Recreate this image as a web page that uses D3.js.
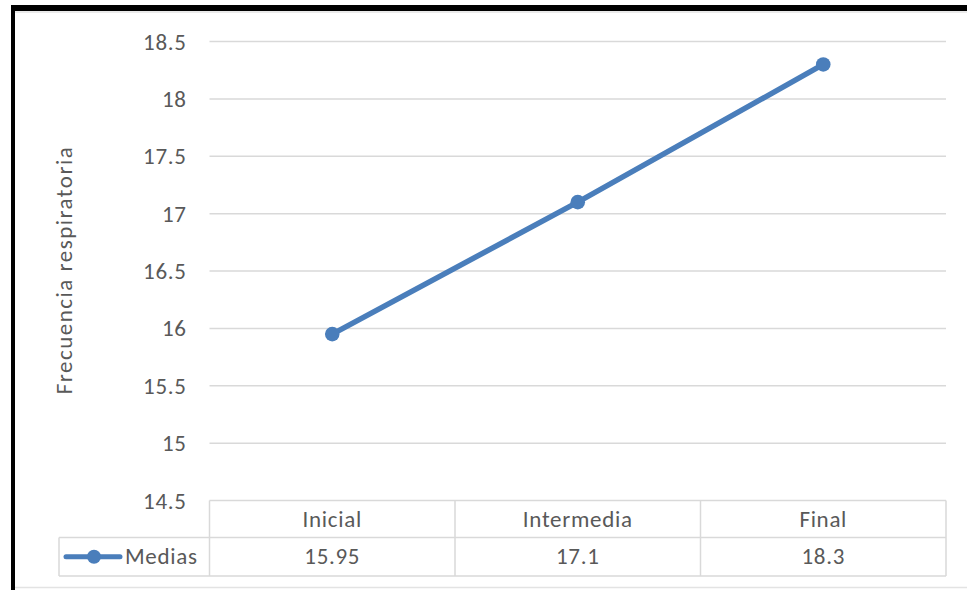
<!DOCTYPE html>
<html><head><meta charset="utf-8">
<script src="https://cdn.jsdelivr.net/npm/d3@7"></script>
<style>html,body{margin:0;padding:0;background:#fff;}svg{display:block;}</style>
</head><body>
<script>
const categories = ["Inicial", "Intermedia", "Final"];
const seriesName = "Medias";
const values = [15.95, 17.1, 18.3];
const valueLabels = ["15.95", "17.1", "18.3"];
const yTicks = [14.5, 15, 15.5, 16, 16.5, 17, 17.5, 18, 18.5];
const yTitle = "Frecuencia respiratoria";

const W = 967, H = 590;
const font = "Carlito, Calibri, Lato, 'Open Sans', sans-serif";
const fs = 23, ls = 0.7;
const textColor = "#595959", gridColor = "#d9d9d9", lineColor = "#4a7ebb";

const svg = d3.select("body").append("svg").attr("width", W).attr("height", H);
svg.append("rect").attr("width", W).attr("height", H).attr("fill", "#fff");

// frame
svg.append("rect").attr("x", 11).attr("y", 5).attr("width", W - 11).attr("height", 6).attr("fill", "#000");
svg.append("rect").attr("x", 11).attr("y", 5).attr("width", 4).attr("height", H - 5).attr("fill", "#000");
svg.append("line").attr("x1", 15).attr("x2", W).attr("y1", 12).attr("y2", 12).attr("stroke", "#e3e3e3").attr("stroke-width", 1.5);
svg.append("line").attr("x1", 15).attr("x2", W).attr("y1", 587.5).attr("y2", 587.5).attr("stroke", "#e3e3e3").attr("stroke-width", 1.5);

const plotL = 209.5, plotR = 946, plotT = 41.5, plotB = 500.5;
const y = d3.scaleLinear().domain([14.5, 18.5]).range([plotB, plotT]);
const x = d3.scaleBand().domain(categories).range([plotL, plotR]);

// gridlines
svg.append("g").selectAll("line").data(yTicks.filter(t => t !== 14.5)).join("line")
  .attr("x1", plotL).attr("x2", plotR)
  .attr("y1", d => y(d)).attr("y2", d => y(d))
  .attr("stroke", gridColor).attr("stroke-width", 1.5);

// y axis labels
const yAxis = d3.axisLeft(y).tickValues(yTicks).tickSize(0).tickPadding(0).tickFormat(d => String(d));
const gy = svg.append("g").attr("transform", "translate(186.7,0)").call(yAxis);
gy.select(".domain").remove();
gy.selectAll("text").attr("font-family", font).attr("font-size", fs).attr("letter-spacing", ls)
  .attr("fill", textColor).attr("dy", "0.33em");

// y title
svg.append("text").attr("transform", "translate(72.3,270) rotate(-90)")
  .attr("text-anchor", "middle").attr("font-family", font).attr("font-size", fs).attr("letter-spacing", 1.5)
  .attr("fill", textColor).text(yTitle);

// data table
const rowTop = 500.5, rowMid = 537.5, rowBot = 576, legL = 59;
const tbl = svg.append("g").attr("stroke", gridColor).attr("stroke-width", 1.5).attr("fill", "none");
tbl.append("line").attr("x1", plotL).attr("x2", plotR).attr("y1", rowTop).attr("y2", rowTop);
tbl.append("line").attr("x1", legL).attr("x2", plotR).attr("y1", rowMid).attr("y2", rowMid);
tbl.append("line").attr("x1", legL).attr("x2", plotR).attr("y1", rowBot).attr("y2", rowBot);
tbl.append("line").attr("x1", legL).attr("x2", legL).attr("y1", rowMid).attr("y2", rowBot);
const seps = categories.map(c => x(c)).concat([plotR]);
tbl.selectAll(".sep").data(seps).join("line").attr("class", "sep")
  .attr("x1", d => d).attr("x2", d => d).attr("y1", rowTop).attr("y2", rowBot);

svg.append("g").selectAll("text").data(categories).join("text")
  .attr("x", d => x(d) + x.bandwidth() / 2).attr("y", (rowTop + rowMid) / 2).attr("dy", "0.33em")
  .attr("text-anchor", "middle").attr("font-family", font).attr("font-size", fs).attr("letter-spacing", ls)
  .attr("fill", textColor).text(d => d);
svg.append("g").selectAll("text").data(valueLabels).join("text")
  .attr("x", (d, i) => x(categories[i]) + x.bandwidth() / 2).attr("y", (rowMid + rowBot) / 2).attr("dy", "0.33em")
  .attr("text-anchor", "middle").attr("font-family", font).attr("font-size", fs).attr("letter-spacing", ls)
  .attr("fill", textColor).text(d => d);

// legend key
const ly = (rowMid + rowBot) / 2;
svg.append("line").attr("x1", 66).attr("x2", 120).attr("y1", ly).attr("y2", ly)
  .attr("stroke", lineColor).attr("stroke-width", 5).attr("stroke-linecap", "round");
svg.append("circle").attr("cx", 94).attr("cy", ly).attr("r", 7).attr("fill", lineColor);
svg.append("text").attr("x", 125).attr("y", ly).attr("dy", "0.33em")
  .attr("font-family", font).attr("font-size", fs).attr("letter-spacing", ls)
  .attr("fill", textColor).text(seriesName);

// series
const pts = categories.map((c, i) => [x(c) + x.bandwidth() / 2, y(values[i])]);
svg.append("path").attr("d", d3.line()(pts)).attr("fill", "none")
  .attr("stroke", lineColor).attr("stroke-width", 5.5).attr("stroke-linecap", "round").attr("stroke-linejoin", "round");
svg.append("g").selectAll("circle").data(pts).join("circle")
  .attr("cx", d => d[0]).attr("cy", d => d[1]).attr("r", 7.3).attr("fill", lineColor);
</script>
</body></html>
